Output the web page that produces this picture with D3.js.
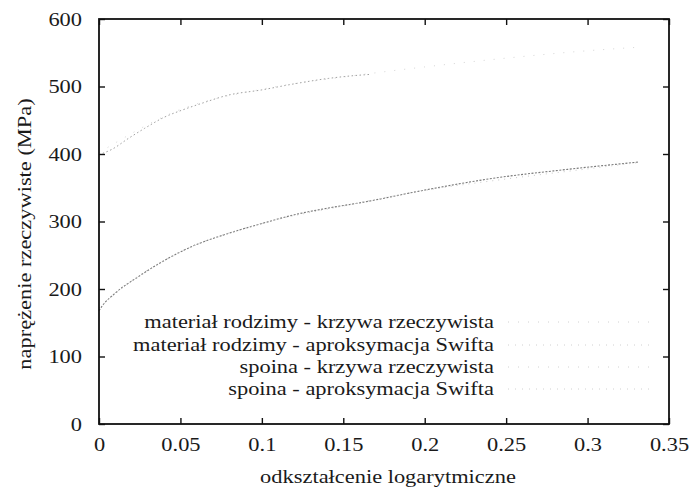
<!DOCTYPE html>
<html>
<head>
<meta charset="utf-8">
<script src="https://cdn.jsdelivr.net/npm/d3@7"></script>
<style>
  html, body { margin: 0; padding: 0; background: #fff; }
  svg { display: block; }
  text { font-family: "Liberation Serif", "Times New Roman", serif; fill: #1a1a1a; }
</style>
</head>
<body>
<svg id="chart" width="693" height="490"></svg>
<script>
// ---- data ----
const xTicks = [0, 0.05, 0.1, 0.15, 0.2, 0.25, 0.3, 0.35];
const xTickLabels = ["0", "0.05", "0.1", "0.15", "0.2", "0.25", "0.3", "0.35"];
const yTicks = [0, 100, 200, 300, 400, 500, 600];
const yTickLabels = ["0", "100", "200", "300", "400", "500", "600"];

const seriesNames = [
  "materiał rodzimy - krzywa rzeczywista",
  "materiał rodzimy - aproksymacja Swifta",
  "spoina - krzywa rzeczywista",
  "spoina - aproksymacja Swifta"
];

// materiał rodzimy - krzywa rzeczywista
const baseRealStrain = [0, 0.002, 0.01, 0.024, 0.0385, 0.059, 0.079, 0.1, 0.12, 0.141, 0.161, 0.201, 0.242, 0.283, 0.331];
const baseRealStress = [168, 175, 194, 218, 240, 265, 282, 297, 310, 320, 328, 347, 364, 376, 388];
// materiał rodzimy - aproksymacja Swifta
const baseSwiftStrain = [0, 0.02, 0.05, 0.1, 0.15, 0.2, 0.25, 0.3, 0.33];
const baseSwiftStress = [172, 212, 255, 297, 323, 346, 363, 378, 387];
// spoina - krzywa rzeczywista
const weldRealStrain = [0, 0.008, 0.018, 0.028, 0.0405, 0.051, 0.063, 0.079, 0.1, 0.12, 0.141, 0.161, 0.167];
const weldRealStress = [399, 407, 423, 438, 455, 465, 475, 487, 495, 504, 512, 517, 518];
// spoina - aproksymacja Swifta
const weldSwiftStrain = [0, 0.05, 0.1, 0.15, 0.2, 0.25, 0.3, 0.33];
const weldSwiftStress = [402, 466, 496, 514, 529, 542, 553, 558];

const xTitle = "odkształcenie logarytmiczne";
const yTitle = "naprężenie rzeczywiste (MPa)";

// ---- layout ----
const svg = d3.select("#chart");
const L = 99, R = 669, T = 19, B = 424;
const SX = 1.15;      // horizontal stretch of the scanned lettering
const FS = 19.5;

const x = d3.scaleLinear().domain([0, 0.35]).range([L, R]);
const y = d3.scaleLinear().domain([0, 600]).range([B, T]);

const series = [
  { name: seriesNames[0], xs: baseRealStrain, ys: baseRealStress, color: "#7a7a7a", dash: "2,1.5", w: 1.1 },
  { name: seriesNames[1], xs: baseSwiftStrain, ys: baseSwiftStress, color: "#c8c8c8", dash: "1,5", w: 1 },
  { name: seriesNames[2], xs: weldRealStrain, ys: weldRealStress, color: "#a0a0a0", dash: "1.5,2.5", w: 1 },
  { name: seriesNames[3], xs: weldSwiftStrain, ys: weldSwiftStress, color: "#d6d6d6", dash: "1,9", w: 1 }
];

const line = d3.line().x(d => x(d[0])).y(d => y(d[1])).curve(d3.curveMonotoneX);

// curves
series.forEach(s => {
  const pts = s.xs.map((v, i) => [v, s.ys[i]]);
  svg.append("path")
    .attr("d", line(pts))
    .attr("fill", "none")
    .attr("stroke", s.color)
    .attr("stroke-width", s.w)
    .attr("stroke-dasharray", s.dash);
});

// axes (inward ticks on all four sides)
const fmtX = (d, i) => xTickLabels[i];
const fmtY = (d, i) => yTickLabels[i];

const gx = svg.append("g").attr("transform", `translate(0,${B})`)
  .call(d3.axisBottom(x).tickValues(xTicks).tickFormat(fmtX).tickSize(-6).tickPadding(13));
const gxt = svg.append("g").attr("transform", `translate(0,${T})`)
  .call(d3.axisTop(x).tickValues(xTicks).tickFormat("").tickSize(-6));
const gy = svg.append("g").attr("transform", `translate(${L},0)`)
  .call(d3.axisLeft(y).tickValues(yTicks).tickFormat(fmtY).tickSize(-6).tickPadding(15));
const gyr = svg.append("g").attr("transform", `translate(${R},0)`)
  .call(d3.axisRight(y).tickValues(yTicks).tickFormat("").tickSize(-6));

[gx, gxt, gy, gyr].forEach(g => {
  g.select(".domain").remove();
  g.selectAll(".tick line").attr("stroke", "#111").attr("stroke-width", 1.4);
  g.selectAll(".tick text")
    .attr("fill", "#1a1a1a")
    .style("font-family", '"Liberation Serif", "Times New Roman", serif')
    .style("font-size", FS + "px")
    .attr("transform", `scale(${SX},1)`);
});
gy.selectAll(".tick text").attr("x", -17 / SX);

// frame
svg.append("rect")
  .attr("x", L).attr("y", T).attr("width", R - L).attr("height", B - T)
  .attr("fill", "none").attr("stroke", "#111").attr("stroke-width", 1.8);

// axis titles
svg.append("text")
  .attr("transform", `translate(${(L + R) / 2 + 4},483) scale(${SX},1)`)
  .attr("text-anchor", "middle")
  .style("font-size", FS + "px")
  .text(xTitle);

svg.append("text")
  .attr("transform", `translate(31,${234}) rotate(-90) scale(${SX},1)`)
  .attr("text-anchor", "middle")
  .style("font-size", FS + "px")
  .text(yTitle);

// legend (right-aligned text, faint samples to the right)
const legBase = [328, 351, 373, 395];
const legRight = 494;
series.forEach((s, i) => {
  svg.append("text")
    .attr("transform", `translate(${legRight},${legBase[i]}) scale(${SX},1)`)
    .attr("text-anchor", "end")
    .style("font-size", FS + "px")
    .text(s.name);
  svg.append("line")
    .attr("x1", 508).attr("x2", 652)
    .attr("y1", legBase[i] - 6).attr("y2", legBase[i] - 6)
    .attr("stroke", "#d0d0d0")
    .attr("stroke-width", 1)
    .attr("stroke-dasharray", i % 2 === 0 ? "1,9" : "1,6");
});
</script>
</body>
</html>
